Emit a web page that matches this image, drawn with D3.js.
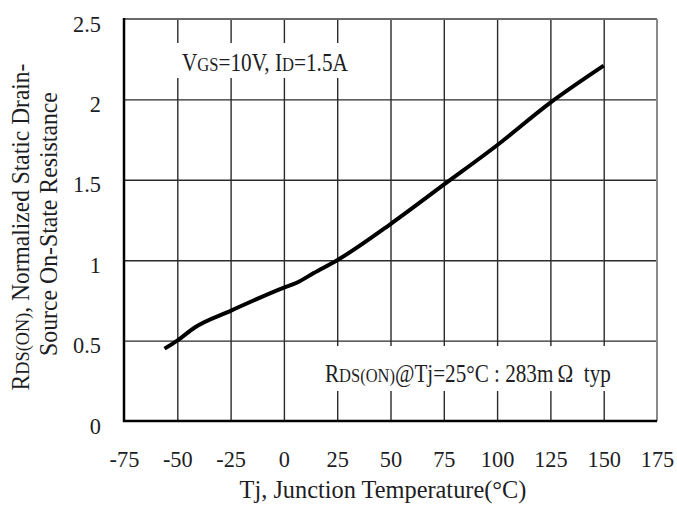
<!DOCTYPE html>
<html>
<head>
<meta charset="utf-8">
<script src="https://cdn.jsdelivr.net/npm/d3@7"></script>
<style>
  body { margin: 0; background: #fff; }
  svg text { font-family: "Liberation Serif", "Times New Roman", serif !important; fill: #1d1d24; white-space: pre; }
</style>
</head>
<body>
<svg id="chart" width="677" height="506"></svg>
<script>
// Normalized on-resistance vs junction temperature
const tempTicks = [-75, -50, -25, 0, 25, 50, 75, 100, 125, 150, 175];
const resTicks = [0, 0.5, 1, 1.5, 2, 2.5];
const tjC = [-56, -50, -42, -25, 0, 6, 14, 25, 50, 75, 100, 125, 150];
const rdsNorm = [0.45, 0.50, 0.58, 0.685, 0.83, 0.86, 0.92, 1.0, 1.225, 1.47, 1.715, 1.98, 2.21];

const svg = d3.select("#chart");
const x = d3.scaleLinear().domain([-75, 175]).range([124, 657]);
const y = d3.scaleLinear().domain([0, 2.5]).range([421, 19]);
const [x0, x1] = x.range();
const [yb, yt] = y.range();

const serif = '"Liberation Serif", "Times New Roman", serif';

// grid
const gridX = tempTicks.slice(1, -1);
const gridY = resTicks.slice(1, -1);
svg.append("g")
  .attr("transform", `translate(0,${yb})`)
  .call(d3.axisBottom(x).tickValues(gridX).tickSize(-(yb - yt)).tickFormat(""))
  .call(g => g.select(".domain").remove())
  .call(g => g.selectAll("line").attr("stroke", "#2a2a2a").attr("stroke-width", 1.4));
svg.append("g")
  .attr("transform", `translate(${x0},0)`)
  .call(d3.axisLeft(y).tickValues(gridY).tickSize(-(x1 - x0)).tickFormat(""))
  .call(g => g.select(".domain").remove())
  .call(g => g.selectAll("line").attr("stroke", "#2a2a2a").attr("stroke-width", 1.4));

// frame
svg.append("line").attr("x1", x0).attr("x2", x1).attr("y1", yt).attr("y2", yt)
  .attr("stroke", "#6a6a6a").attr("stroke-width", 2);
svg.append("line").attr("x1", x1).attr("x2", x1).attr("y1", yt).attr("y2", yb)
  .attr("stroke", "#8a8a8a").attr("stroke-width", 2);
svg.append("line").attr("x1", x0).attr("x2", x0).attr("y1", yt - 1).attr("y2", yb + 1)
  .attr("stroke", "#000").attr("stroke-width", 2.5);
svg.append("line").attr("x1", x0 - 1).attr("x2", x1).attr("y1", yb).attr("y2", yb)
  .attr("stroke", "#000").attr("stroke-width", 2.5);

// tick labels
function styleTicks(sel) {
  sel.attr("dy", null)
    .attr("fill", "#1d1d24")
    .style("font-family", serif)
    .style("font-size", "24px")
    .each(function () {
      const w = this.getComputedTextLength();
      d3.select(this).attr("textLength", w * 0.93).attr("lengthAdjust", "spacingAndGlyphs");
    });
}
const xAxis = svg.append("g")
  .attr("transform", `translate(0,${yb})`)
  .attr("font-family", null).attr("font-size", null)
  .call(d3.axisBottom(x).tickValues(tempTicks).tickSize(0).tickFormat(d => String(d)));
xAxis.select(".domain").remove();
xAxis.selectAll("text").attr("y", 46).call(styleTicks);

const yAxis = svg.append("g")
  .attr("transform", `translate(${x0},0)`)
  .call(d3.axisLeft(y).tickValues(resTicks).tickSize(0).tickFormat(d => String(d)));
yAxis.select(".domain").remove();
yAxis.selectAll("text").attr("x", -23).attr("y", 12).call(styleTicks);
xAxis.attr("font-family", null);
yAxis.attr("font-family", null);

// annotation boxes mask the grid
svg.append("rect").attr("x", 168).attr("y", 43).attr("width", 190).attr("height", 35).attr("fill", "#fff");
svg.append("rect").attr("x", 312).attr("y", 346).attr("width", 312).attr("height", 45).attr("fill", "#fff");

// curve
const line = d3.line().x((d, i) => x(tjC[i])).y(d => y(d)).curve(d3.curveMonotoneX);
svg.append("path").datum(rdsNorm)
  .attr("d", line)
  .attr("fill", "none").attr("stroke", "#000").attr("stroke-width", 4)
  .attr("stroke-linejoin", "round");

// label with subscripted parts
function richText(parent, parts, size) {
  const t = parent.append("text").style("font-size", size + "px");
  parts.forEach(p => {
    t.append("tspan").style("font-size", (p.sub ? size * 0.78 : size) + "px").text(p.t);
  });
  return t;
}
// position a label and squeeze it along its baseline to the given width
function place(t, px, py, width, rot) {
  const k = width / t.node().getComputedTextLength();
  t.attr("transform", `translate(${px},${py})${rot ? " rotate(" + rot + ")" : ""} scale(${k},1)`);
}

const cond = richText(svg, [
  { t: "V" }, { t: "GS", sub: true }, { t: "=10V, I" }, { t: "D", sub: true }, { t: "=1.5A" }
], 25);
place(cond, 182, 71, 166);

const note = richText(svg, [
  { t: "R" }, { t: "DS(ON)", sub: true }, { t: "@Tj=25°C : 283m\u2009Ω\u2002typ" }
], 25);
place(note, 325, 382, 286);

// axis titles
const xt = svg.append("text").style("font-size", "25px").attr("text-anchor", "middle")
  .text("Tj, Junction Temperature(°C)");
place(xt, 383, 498, 287);

const yt1 = richText(svg, [
  { t: "R" }, { t: "DS(ON)", sub: true }, { t: ", Normalized Static Drain-" }
], 25).attr("text-anchor", "middle");
place(yt1, 29, 227, 327, -90);

const yt2 = svg.append("text").style("font-size", "25px").attr("text-anchor", "middle")
  .text("Source On-State Resistance");
place(yt2, 57, 224, 264, -90);
</script>
</body>
</html>
